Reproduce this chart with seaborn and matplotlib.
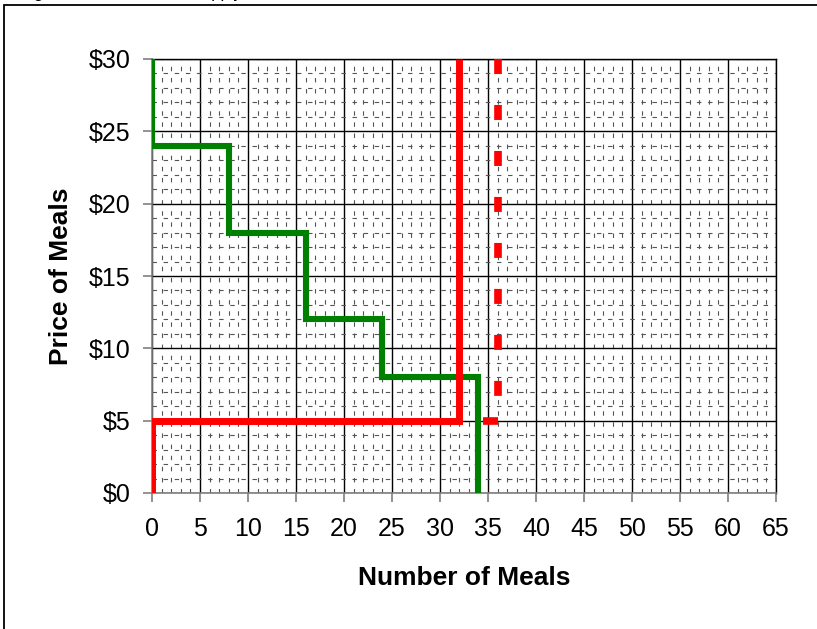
import matplotlib
matplotlib.use("Agg")
import matplotlib.pyplot as plt
import matplotlib.patches as mpatches
from matplotlib.ticker import MultipleLocator, FuncFormatter
import seaborn as sns
import pandas as pd

# ---- data ----
demand_qty = [0, 0, 8, 8, 16, 16, 24, 24, 34, 34]
demand_price = [30, 24, 24, 18, 18, 12, 12, 8, 8, 0]
supply_qty = [0, 0, 32, 32]
supply_price = [0, 5, 5, 30]
supply2_qty = [36, 36, 36, 32]
supply2_price = [30, 5, 5, 5]
supply2_seg = [0, 0, 1, 1]
x_ticks = list(range(0, 70, 5))
y_ticks = list(range(0, 35, 5))
title_text = "Figure 1: Demand and Supply"
x_label = "Number of Meals"
y_label = "Price of Meals"

sns.set_theme(style="white")
plt.rcParams["font.family"] = ["Liberation Sans", "DejaVu Sans"]

W, H = 817, 629
fig = plt.figure(figsize=(W / 100, H / 100), dpi=100)
fig.patch.set_facecolor("white")
ax = fig.add_axes([152 / W, 1 - 493 / H, 624 / W, 434 / H])
ax.set_facecolor("white")

df_d = pd.DataFrame({"q": demand_qty, "p": demand_price})
df_s = pd.DataFrame({"q": supply_qty, "p": supply_price})
df_s2 = pd.DataFrame({"q": supply2_qty, "p": supply2_price, "seg": supply2_seg})

sns.lineplot(data=df_d, x="q", y="p", sort=False, estimator=None, ax=ax,
             color="#008000", linewidth=4.4, solid_joinstyle="miter",
             solid_capstyle="butt", zorder=3)
sns.lineplot(data=df_s, x="q", y="p", sort=False, estimator=None, ax=ax,
             color="#FF0000", linewidth=5.0, solid_joinstyle="miter",
             solid_capstyle="butt", zorder=4)
sns.lineplot(data=df_s2, x="q", y="p", units="seg", sort=False, estimator=None,
             ax=ax, color="#FF0000", linewidth=5.5,
             linestyle=(0, (1.96, 4.06)), dash_capstyle="butt", zorder=4)

ax.set_xlim(0, 65)
ax.set_ylim(0, 30)
ax.set_xticks(x_ticks)
ax.set_yticks(y_ticks)
ax.xaxis.set_minor_locator(MultipleLocator(1))
ax.yaxis.set_minor_locator(MultipleLocator(1))
ax.yaxis.set_major_formatter(FuncFormatter(lambda v, p: f"${int(v)}"))

ax.set_axisbelow(True)
ax.grid(which="major", color="black", linewidth=1.0, linestyle="-")
ax.grid(which="minor", color="#555555", linewidth=0.8, linestyle=(0, (4, 6)))

for s in ["top", "right"]:
    ax.spines[s].set_color("black")
    ax.spines[s].set_linewidth(1.0)
for s in ["left", "bottom"]:
    ax.spines[s].set_color("#808080")
    ax.spines[s].set_linewidth(1.2)

ax.tick_params(which="major", direction="out", length=6.5, width=1.2,
               color="#808080", labelsize=18, labelcolor="black")
ax.tick_params(axis="x", which="major", pad=11, bottom=True)
ax.tick_params(axis="y", which="major", pad=9, left=True)
ax.tick_params(which="minor", length=0)
ax.set_xlabel("")
ax.set_ylabel("")

fig.text(464 / W, 1 - 585 / H, x_label, ha="center", va="baseline",
         fontsize=19, fontweight="bold", color="black")
fig.text(68.5 / W, 1 - 276 / H, y_label, ha="center", va="baseline",
         rotation=90, rotation_mode="anchor",
         fontsize=19, fontweight="bold", color="black")

# partially visible title above the frame (only descenders show)
fig.text(20 / W, 1 + 2.0 / H, title_text, ha="left", va="baseline",
         fontsize=12, color="black")

# outer chart frame (cropped on right/bottom)
frame = mpatches.Rectangle((4 / W, -0.1), 1.2, (1 - 5 / H) + 0.1,
                           transform=fig.transFigure, fill=False,
                           edgecolor="black", linewidth=1.3)
fig.add_artist(frame)

fig.savefig("out.png", dpi=100, facecolor="white")
